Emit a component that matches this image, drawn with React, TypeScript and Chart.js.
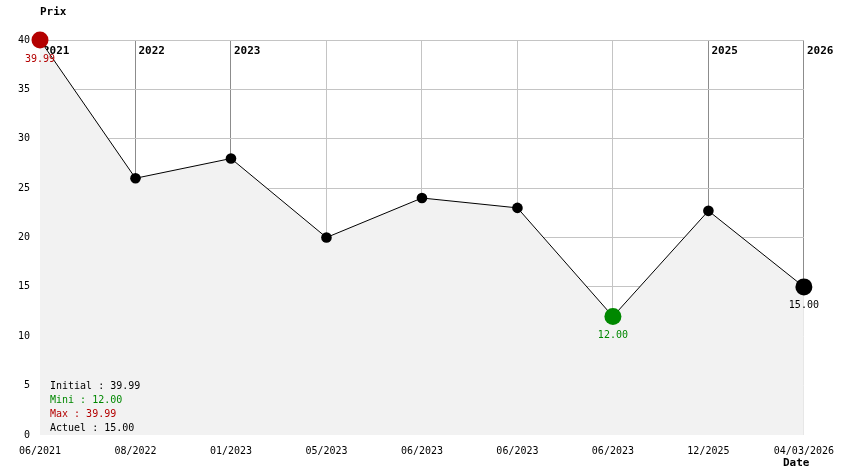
import React, { useEffect, useRef } from "react";
import { Chart, registerables } from "chart.js";

Chart.register(...registerables);

const dateLabels = ["06/2021", "08/2022", "01/2023", "05/2023", "06/2023", "06/2023", "06/2023", "12/2025", "04/03/2026"];
const prices = [39.99, 26.0, 28.0, 20.0, 24.0, 23.0, 12.0, 22.7, 15.0];
const yearIndices = [0, 1, 2, 7, 8];
const yearLabels = ["2021", "2022", "2023", "2025", "2026"];
const yMin = 0;
const yMax = 40;
const yStep = 5;
const summaryLines = ["Initial : 39.99", "Mini : 12.00", "Max : 39.99", "Actuel : 15.00"];

const MONO = "'DejaVu Sans Mono', 'Liberation Mono', monospace";
const RED = "#b40000";
const GREEN = "#008800";

export default function App() {
  const ref = useRef<HTMLCanvasElement | null>(null);

  useEffect(() => {
    document.body.style.margin = "0";
    const canvas = ref.current;
    if (!canvas) return;
    const minVal = Math.min(...prices);
    const maxVal = Math.max(...prices);
    const minIdx = prices.indexOf(minVal);
    const maxIdx = prices.indexOf(maxVal);
    const lastIdx = prices.length - 1;

    const pointColor = (i: number) => (i === maxIdx ? RED : i === minIdx ? GREEN : "#000000");
    const pointRad = (i: number) => (i === maxIdx || i === minIdx || i === lastIdx ? 8.5 : 5.3);

    const summaryColors = ["#000000", GREEN, RED, "#000000"];

    const decor = {
      id: "decor",
      beforeDatasetsDraw(chart: any) {
        const ctx = chart.ctx;
        const xs = chart.scales.x;
        const top = chart.chartArea.top;
        ctx.save();
        ctx.font = `bold 11px ${MONO}`;
        ctx.fillStyle = "#000";
        ctx.textBaseline = "middle";
        ctx.textAlign = "left";
        yearIndices.forEach((idx, k) => {
          const x = xs.getPixelForValue(idx);
          ctx.fillText(yearLabels[k], x + 3, top + 11);
        });
        ctx.restore();
      },
      afterDatasetsDraw(chart: any) {
        const ctx = chart.ctx;
        const meta = chart.getDatasetMeta(0);
        const area = chart.chartArea;
        ctx.save();
        ctx.font = `10px ${MONO}`;
        ctx.textAlign = "center";
        ctx.textBaseline = "middle";
        const labelPts = [
          { i: maxIdx, c: RED },
          { i: minIdx, c: GREEN },
          { i: lastIdx, c: "#000000" },
        ];
        labelPts.forEach(({ i, c }) => {
          const p = meta.data[i];
          ctx.fillStyle = c;
          ctx.fillText(prices[i].toFixed(2), p.x, p.y + 19);
        });
        ctx.textAlign = "left";
        summaryLines.forEach((t, k) => {
          ctx.fillStyle = summaryColors[k];
          ctx.fillText(t, area.left + 10, area.bottom - 49 + k * 14);
        });
        ctx.font = `bold 11px ${MONO}`;
        ctx.fillStyle = "#000";
        ctx.fillText("Prix", area.left, 12);
        ctx.fillText("Date", 783, 463);
        ctx.restore();
      },
    };

    const chart = new Chart(canvas, {
      type: "line",
      data: {
        labels: dateLabels,
        datasets: [
          {
            data: prices,
            borderColor: "#000000",
            borderWidth: 1,
            backgroundColor: "#f2f2f2",
            fill: "origin",
            tension: 0,
            clip: false as any,
            pointRadius: (c: any) => pointRad(c.dataIndex),
            pointHoverRadius: (c: any) => pointRad(c.dataIndex),
            pointBackgroundColor: (c: any) => pointColor(c.dataIndex),
            pointBorderColor: (c: any) => pointColor(c.dataIndex),
            pointBorderWidth: 0,
          },
        ],
      },
      options: {
        animation: false,
        responsive: false,
        maintainAspectRatio: false,
        layout: { padding: { top: 40, right: 39, bottom: 0, left: 0 } },
        plugins: { legend: { display: false }, tooltip: { enabled: false } },
        scales: {
          x: {
            type: "category",
            offset: false,
            border: { display: false },
            grid: {
              drawTicks: false,
              color: (c: any) => (yearIndices.includes(c.index) ? "#8c8c8c" : "#c4c4c4"),
              lineWidth: 1,
            },
            ticks: {
              autoSkip: false,
              maxRotation: 0,
              minRotation: 0,
              padding: 10,
              color: "#000",
              font: { family: MONO, size: 10 },
            },
            afterFit: (s: any) => {
              s.height = 39;
            },
          },
          y: {
            min: yMin,
            max: yMax,
            border: { display: false },
            grid: {
              drawTicks: false,
              color: (c: any) => (c.tick && c.tick.value === yMin ? "rgba(0,0,0,0)" : "#c4c4c4"),
              lineWidth: 1,
            },
            ticks: {
              stepSize: yStep,
              padding: 10,
              color: "#000",
              font: { family: MONO, size: 10 },
            },
            afterFit: (s: any) => {
              s.width = 40;
            },
          },
        },
      },
      plugins: [decor],
    } as any);

    return () => chart.destroy();
  }, []);

  return (
    <div style={{ position: "relative", width: 844, height: 474 }}>
      <canvas ref={ref} width={844} height={474} style={{ display: "block", width: 844, height: 474 }} />
    </div>
  );
}
